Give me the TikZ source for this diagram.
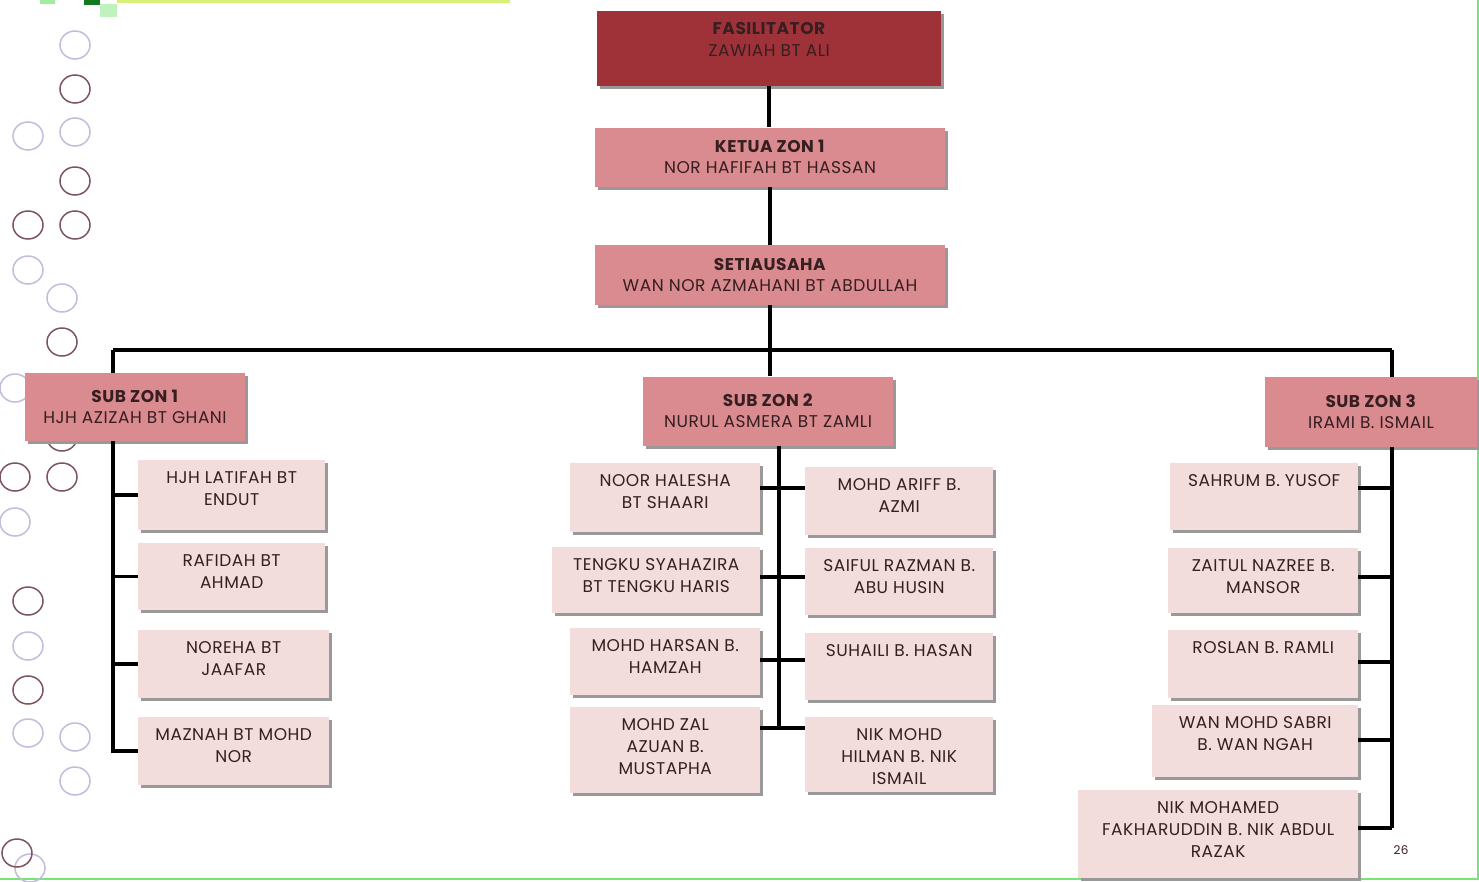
\documentclass[tikz,border=0pt]{standalone}
\usepackage{fontspec}
\setmainfont{Poppins}[LetterSpace=3]
\usetikzlibrary{shadows}

\definecolor{fasilred}{RGB}{158,50,56}
\definecolor{headpink}{RGB}{217,139,144}
\definecolor{cellpink}{RGB}{242,221,220}
\definecolor{inkbrown}{RGB}{55,30,32}
\definecolor{ringdark}{RGB}{125,85,92}
\definecolor{ringlight}{RGB}{196,188,218}
\definecolor{slidegreen}{RGB}{120,228,120}
\definecolor{leafgreen}{RGB}{20,120,30}
\definecolor{limegreen}{RGB}{214,240,120}

\newcommand{\cell}[3]{\parbox[c][#2pt][t]{#1pt}{\centering\rule{0pt}{23pt}#3}}

\tikzset{
  chartbox/.style={rectangle,inner sep=0pt,text=inkbrown,
    drop shadow={shadow xshift=3pt,shadow yshift=-3pt,fill=black!40,opacity=1}},
  headbox/.style={chartbox,fill=headpink,align=center,
    font=\fontsize{17}{21}\selectfont},
  fasilbox/.style={chartbox,fill=fasilred,anchor=north west,
    font=\fontsize{17}{22}\selectfont},
  namebox/.style={chartbox,fill=cellpink,anchor=north west,
    font=\fontsize{17}{22}\selectfont},
  link/.style={line width=3.5pt},
  ring/.style={line width=1.5pt,x radius=15pt,y radius=14pt},
}

\begin{document}
\begin{tikzpicture}[x=1pt,y=-1pt]
  \path[use as bounding box,fill=white] (0,0) rectangle (1479,881);

  % slide decoration
  \fill[limegreen] (117,0) rectangle (510,3);
  \fill[slidegreen!70] (40,0) rectangle (55,4);
  \fill[leafgreen] (84,0) rectangle (100,5);
  \fill[black!20!green!25] (100,4) rectangle (117,17);
  \draw[slidegreen,line width=2pt] (0,879) -- (1478,879) -- (1478,0);
  \foreach \x/\y in {75/45,28/136,75/132,28/270,62/298,15/388,15/522,
      28/646,28/733,75/737,75/781,30/868}
    \draw[ring,ringlight] (\x,\y) ellipse [];
  \foreach \x/\y in {75/89,75/181,28/225,75/225,62/342,62/437,15/477,
      62/477,28/601,28/690,17/853}
    \draw[ring,ringdark] (\x,\y) ellipse [];

  % heads
  \node[fasilbox] (fasil) at (597,11)
    {\cell{344}{75}{\textbf{FASILITATOR}\\ZAWIAH BT ALI}};
  \node[headbox,minimum width=350pt,minimum height=59pt] (ketua) at (770,157)
    {\textbf{KETUA ZON 1}\\NOR HAFIFAH BT HASSAN};
  \node[headbox,minimum width=350pt,minimum height=60pt] (setia) at (770,275)
    {\textbf{SETIAUSAHA}\\WAN NOR AZMAHANI BT ABDULLAH};
  \node[headbox,minimum width=220pt,minimum height=68pt] (subA) at (135,407)
    {\textbf{SUB ZON 1}\\HJH AZIZAH BT GHANI};
  \node[headbox,minimum width=250pt,minimum height=69pt] (subB) at (768,411)
    {\textbf{SUB ZON 2}\\NURUL ASMERA BT ZAMLI};
  \node[headbox,minimum width=212pt,minimum height=70pt] (subC) at (1371,412)
    {\textbf{SUB ZON 3}\\IRAMI B. ISMAIL};

  % sub zon 1
  \node[namebox] (a1) at (138,460) {\cell{187}{70}{HJH LATIFAH BT\\ENDUT}};
  \node[namebox] (a2) at (138,543) {\cell{187}{67}{RAFIDAH BT\\AHMAD}};
  \node[namebox] (a3) at (138,630) {\cell{191}{68}{NOREHA BT\\JAAFAR}};
  \node[namebox] (a4) at (138,717) {\cell{191}{68}{MAZNAH BT MOHD\\NOR}};

  % sub zon 2
  \node[namebox] (b1) at (570,463) {\cell{190}{69}{NOOR HALESHA\\BT SHAARI}};
  \node[namebox] (b2) at (805,467) {\cell{188}{68}{MOHD ARIFF B.\\AZMI}};
  \node[namebox] (b3) at (552,547) {\cell{208}{66}{TENGKU SYAHAZIRA\\BT TENGKU HARIS}};
  \node[namebox] (b4) at (805,548) {\cell{188}{67}{SAIFUL RAZMAN B.\\ABU HUSIN}};
  \node[namebox] (b5) at (570,628) {\cell{190}{67}{MOHD HARSAN B.\\HAMZAH}};
  \node[namebox] (b6) at (805,633) {\cell{188}{67}{SUHAILI B. HASAN}};
  \node[namebox] (b7) at (570,707) {\cell{190}{86}{MOHD ZAL\\AZUAN B.\\MUSTAPHA}};
  \node[namebox] (b8) at (805,717) {\cell{188}{75}{NIK MOHD\\HILMAN B. NIK\\ISMAIL}};

  % sub zon 3
  \node[namebox] (c1) at (1170,463) {\cell{188}{67}{SAHRUM B. YUSOF}};
  \node[namebox] (c2) at (1168,548) {\cell{190}{65}{ZAITUL NAZREE B.\\MANSOR}};
  \node[namebox] (c3) at (1168,630) {\cell{190}{68}{ROSLAN B. RAMLI}};
  \node[namebox] (c4) at (1152,705) {\cell{206}{72}{WAN MOHD SABRI\\B. WAN NGAH}};
  \node[namebox] (c5) at (1078,790)
    {\cell{280}{88}{NIK MOHAMED\\FAKHARUDDIN B. NIK ABDUL\\RAZAK}};

  \node[text=inkbrown,font=\fontsize{12}{14}\selectfont] (page) at (1401,850) {26};

  % lines
  \coordinate (colA) at (113,350);
  \coordinate (colB) at (779,446);
  \coordinate (colC) at (1392,350);
  \draw[link] (fasil.south) -- (fasil.south |- ketua.north);
  \draw[link] (ketua.south) -- (ketua.south |- setia.north);
  \draw[link] (setia.south) -- (setia.south |- subB.north);
  \draw[link] (colA) -- (colC);
  \draw[link] (colA) -- (colA |- subA.north);
  \draw[link] (colA |- subA.south) |- (a4.west);
  \foreach \n in {a1,a2,a3}
    \draw[link] (\n.west) -- (\n.west -| colA);
  \draw[link] (colB |- subB.south) -- (colB |- 0,728);
  \foreach \l/\r/\y in {b1/b2/488,b3/b4/577,b5/b6/660,b7/b8/728}
    \draw[link] (\l.east |- 0,\y) -- (\r.west |- 0,\y);
  \draw[link] (colC) -- (colC |- subC.north);
  \draw[link] (colC |- subC.south) -- (colC |- 0,828);
  \foreach \n/\y in {c1/488,c2/577,c3/662,c4/740,c5/828}
    \draw[link] (\n.east |- 0,\y) -- (colC |- 0,\y);
\end{tikzpicture}
\end{document}
